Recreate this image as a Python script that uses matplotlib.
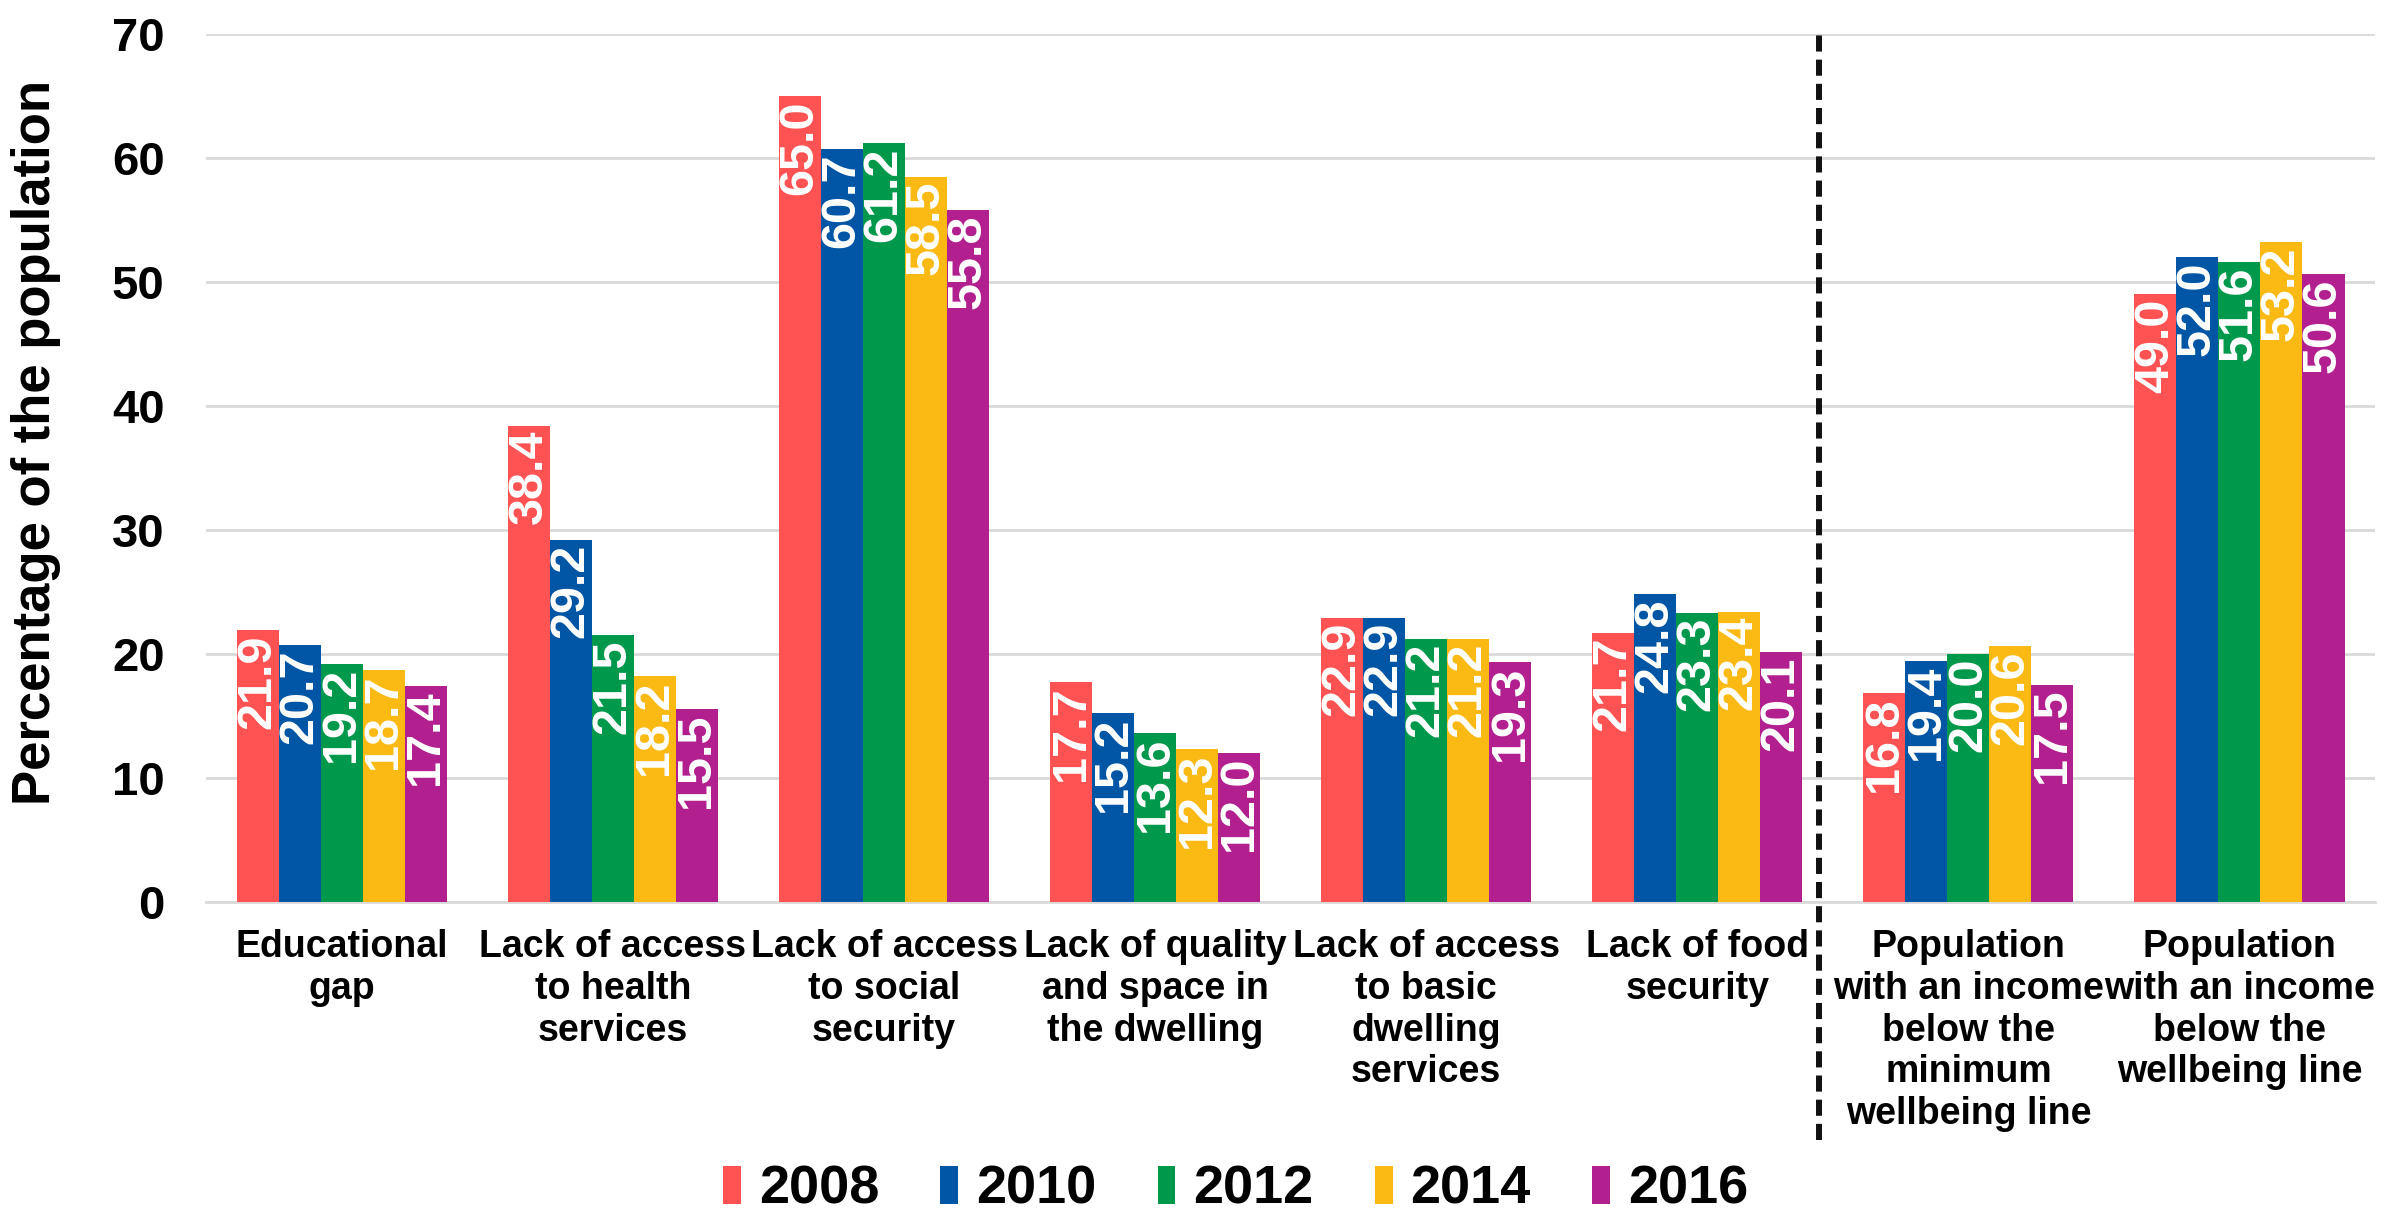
import matplotlib
matplotlib.use("Agg")
import matplotlib.pyplot as plt
from matplotlib.lines import Line2D
from matplotlib.patches import Patch
import numpy as np

categories = ["Educational\ngap", "Lack of access\nto health\nservices", "Lack of access\nto social\nsecurity",
              "Lack of quality\nand space in\nthe dwelling", "Lack of access\nto basic\ndwelling\nservices",
              "Lack of food\nsecurity", "Population\nwith an income\nbelow the\nminimum\nwellbeing line",
              "Population\nwith an income\nbelow the\nwellbeing line"]
years = ["2008", "2010", "2012", "2014", "2016"]
v2008 = [21.9, 38.4, 65.0, 17.7, 22.9, 21.7, 16.8, 49.0]
v2010 = [20.7, 29.2, 60.7, 15.2, 22.9, 24.8, 19.4, 52.0]
v2012 = [19.2, 21.5, 61.2, 13.6, 21.2, 23.3, 20.0, 51.6]
v2014 = [18.7, 18.2, 58.5, 12.3, 21.2, 23.4, 20.6, 53.2]
v2016 = [17.4, 15.5, 55.8, 12.0, 19.3, 20.1, 17.5, 50.6]
series = [v2008, v2010, v2012, v2014, v2016]
colors = ["#FF5252", "#0055A5", "#00994C", "#FBB913", "#B21F8F"]

FONT = "Liberation Sans"

fig = plt.figure(figsize=(23.99, 12.15), dpi=100)
ax = fig.add_axes([0.086, 0.258, 0.904, 0.714])

n = len(categories)
x = np.arange(n)
w = 0.155
for i, (vals, c) in enumerate(zip(series, colors)):
    pos = x + (i - 2) * w
    ax.bar(pos, vals, width=w, color=c, zorder=3, label=years[i])
    for p, v in zip(pos, vals):
        ax.annotate(f"{v:.1f}", (p, v), xytext=(0, -3), textcoords="offset points",
                    rotation=90, ha="center", va="top", color="white",
                    fontsize=35, fontweight="bold", family=FONT, zorder=4)

ax.set_xlim(-0.5, n - 0.5)
ax.set_ylim(0, 70)
ax.set_yticks(range(0, 71, 10))
ax.grid(axis="y", color="#D9D9D9", linewidth=2, zorder=0)
ax.set_axisbelow(True)
for s in ["left", "right", "top"]:
    ax.spines[s].set_visible(False)
ax.spines["bottom"].set_color("#D9D9D9")
ax.spines["bottom"].set_linewidth(2)
ax.tick_params(axis="both", length=0)
ax.tick_params(axis="y", pad=30)
ax.tick_params(axis="x", pad=20)
ax.set_xticks(x)
ax.set_xticklabels(categories, fontsize=27, fontweight="bold", family=FONT,
                   linespacing=1.2, va="top")
for lab in ax.get_yticklabels():
    lab.set_fontsize(34)
    lab.set_fontweight("bold")
    lab.set_family(FONT)

ax.set_ylabel("Percentage of the population", fontsize=38, fontweight="bold", family=FONT)
ax.yaxis.set_label_coords(-0.067, 0.529)

# dashed separator
ax.add_line(Line2D([5.45, 5.45], [-0.275, 1.0], transform=ax.get_xaxis_transform(),
                   color="#111111", linestyle=(0, (2.7, 1.35)), linewidth=4.3,
                   clip_on=False, zorder=5))

handles = [Patch(facecolor=c, label=y) for c, y in zip(colors, years)]
leg = fig.legend(handles=handles, loc="center", bbox_to_anchor=(0.515, 0.0206), ncol=5, frameon=False,
                 prop={"family": FONT, "weight": "bold", "size": 39},
                 handlelength=0.33, handleheight=0.7, handletextpad=0.33, columnspacing=1.13)

fig.savefig("out.png", dpi=100)
